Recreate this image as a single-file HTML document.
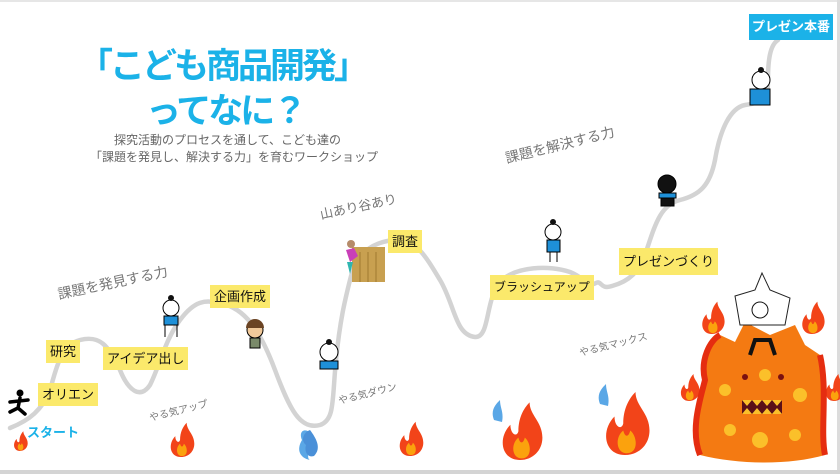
<!DOCTYPE html>
<html><head><meta charset="utf-8"><style>
html,body{margin:0;padding:0}
body{width:840px;height:474px;position:relative;overflow:hidden;background:#fff;font-family:"Liberation Sans","Noto Sans CJK JP",sans-serif}
.t{position:absolute;white-space:nowrap}
.y{position:absolute;background:#fbe96b;color:#111;font-size:13px;line-height:23px;padding:0 4px;white-space:nowrap}
.r{position:absolute;white-space:nowrap;color:#777;transform-origin:left bottom}
</style></head><body>
<svg width="840" height="474" style="position:absolute;left:0;top:0">
<rect x="0" y="0" width="840" height="2" fill="#e6e6e6"/>
<rect x="837" y="0" width="3" height="474" fill="#dcdcdc"/>
<rect x="0" y="470" width="840" height="4" fill="#d4d4d4"/>
<path d="M10,428 C30,420 42,410 50,390 C56,370 60,345 80,340 C100,335 108,345 120,370 C128,390 140,400 150,385 C160,365 165,340 180,320 C195,300 205,300 220,303 C245,308 260,330 275,370 C290,410 300,430 320,425 C335,420 332,400 336,360 C340,320 345,300 350,280 C356,255 370,242 395,240 C415,238 425,255 440,280 C455,305 455,335 475,337 C490,338 485,300 500,282 C515,266 550,265 570,272 C585,278 588,288 596,283 C602,280 600,290 612,286 C630,281 638,272 645,255 C655,225 660,205 680,200 C700,195 710,185 715,160 C720,130 730,108 745,105 C765,102 768,98 768,80 C768,60 770,45 778,40" fill="none" stroke="#d3d3d3" stroke-width="4.5" stroke-linecap="round"/>
<rect x="352" y="247" width="33" height="35" fill="#c8a050"/>
<g stroke="#a07a30" stroke-width="1"><line x1="360" y1="252" x2="360" y2="282"/><line x1="368" y1="252" x2="368" y2="282"/><line x1="376" y1="252" x2="376" y2="282"/></g>
<circle cx="351" cy="244" r="4" fill="#b58b6a"/><path d="M346,250 l8,-2 l4,8 l-8,6 z" fill="#c93fb8"/><path d="M347,262 l6,0 l-3,12 z" fill="#2fb6b0"/>
<circle cx="20" cy="393" r="3.5" fill="#000"/><path d="M20,398 L18,408 L10,412 M18,408 L25,414 M10,402 L28,400" stroke="#000" stroke-width="3.5" fill="none" stroke-linecap="round"/>
<g stroke="#000" stroke-width="1" fill="#fff">
<circle cx="171" cy="308" r="8"/><rect x="164" y="316" width="14" height="9" fill="#1e90d8"/><path d="M165,325 v12 M177,325 v12"/>
<circle cx="255" cy="330" r="8" fill="#f1c99a"/><rect x="250" y="338" width="10" height="10" fill="#7a8a6a"/>
<circle cx="329" cy="352" r="9"/><rect x="320" y="361" width="18" height="8" fill="#1e90d8"/>
<circle cx="553" cy="232" r="8"/><rect x="547" y="240" width="13" height="12" fill="#1e90d8"/><path d="M550,252 v10 M557,252 v10"/>
<circle cx="667" cy="184" r="9" fill="#111"/><rect x="659" y="193" width="17" height="5" fill="#1e90d8"/><rect x="661" y="198" width="13" height="8" fill="#111"/>
<circle cx="761" cy="80" r="9"/><rect x="750" y="89" width="20" height="16" fill="#1e90d8"/>
</g>
<g fill="#111"><circle cx="171" cy="298" r="3"/><circle cx="329" cy="342" r="3"/><circle cx="553" cy="222" r="3"/><circle cx="761" cy="70" r="3"/><path d="M246,328 a9,9 0 0 1 18,0 z" fill="#6b4424"/></g>
<defs><g id="f"><path d="M0,20 C-12,20 -14,6 -6,-2 C-6,4 -2,6 -1,2 C-1,-6 2,-12 6,-16 C6,-8 14,-4 14,6 C14,14 8,20 0,20 z" fill="#f24419"/><path d="M1,19 C-5,19 -6,10 -1,6 C0,10 2,10 3,6 C7,9 8,19 1,19 z" fill="#fba20d"/></g></defs>
<use href="#f" transform="translate(20,440) scale(0.55)"/>
<use href="#f" transform="translate(181,438) scale(0.95)"/>
<use href="#f" transform="translate(410,437) scale(0.95)"/>
<use href="#f" transform="translate(520,428) scale(1.6)"/>
<use href="#f" transform="translate(625,420) scale(1.75)"/>
<use href="#f" transform="translate(689,386) scale(0.75)"/>
<use href="#f" transform="translate(834,386) scale(0.75)"/>
<path d="M302,440 C298,430 306,428 310,433 C312,445 305,458 310,460 C300,458 296,450 302,440z" fill="#5aa7e6"/>
<path d="M306,445 C300,440 304,432 310,430 C316,438 322,448 314,456 C308,458 304,452 306,445z" fill="#4a90d8"/>
<path d="M494,420 C490,410 496,404 500,400 C500,408 504,412 502,422 z M600,404 C596,394 602,388 606,384 C606,392 610,396 608,406 z" fill="#5aa7e6"/>
<path d="M700,455 C690,430 700,400 705,380 C700,360 710,340 720,335 L735,342 L745,322 L770,335 L795,325 L805,345 L820,355 C828,390 820,430 825,455 C790,465 740,465 700,455z" fill="#f47a12"/>
<path d="M700,455 C690,430 700,400 705,380 C700,360 710,340 720,335" stroke="#e52d10" stroke-width="6" fill="none"/>
<path d="M825,455 C820,430 828,390 820,355" stroke="#e52d10" stroke-width="6" fill="none"/>
<use href="#f" transform="translate(712,316) scale(0.9)"/>
<use href="#f" transform="translate(812,316) scale(0.9)"/>
<g fill="#fbc02a"><circle cx="725" cy="390" r="6"/><circle cx="800" cy="395" r="7"/><circle cx="760" cy="440" r="8"/><circle cx="730" cy="430" r="6"/><circle cx="795" cy="435" r="6"/><circle cx="765" cy="375" r="6"/></g>
<circle cx="745" cy="377" r="3" fill="#7a1010"/><circle cx="781" cy="377" r="3" fill="#7a1010"/>
<path d="M742,400 h40 v14 h-40z" fill="#5a1018"/><path d="M742,400 l5,6 l5,-6 l5,6 l5,-6 l5,6 l5,-6 l5,6 l5,-6 M742,414 l5,-6 l5,6 l5,-6 l5,6 l5,-6 l5,6 l5,-6 l5,6" fill="#fbc02a"/>
<path d="M735,296 L755,290 L762,273 L770,290 L790,298 L785,325 L740,325z" fill="#fff" stroke="#222" stroke-width="1"/>
<circle cx="760" cy="310" r="8" fill="#fff" stroke="#111"/><path d="M750,355 L755,340 L770,340 L775,355" stroke="#111" stroke-width="4" fill="none"/>
</svg>
<div class="t" style="left:78px;top:38px;font-size:35px;font-weight:bold;color:#1bb2e8;letter-spacing:-3px">「こども商品開発」</div>
<div class="t" style="left:146px;top:83px;font-size:35px;font-weight:bold;color:#1bb2e8;letter-spacing:-3px">ってなに？</div>
<div class="t" style="left:114px;top:131px;font-size:12px;color:#666">探究活動のプロセスを通して、こども達の</div>
<div class="t" style="left:90px;top:148px;font-size:12px;color:#666">「課題を発見し、解決する力」を育むワークショップ</div>
<div class="r" style="left:60px;top:284px;font-size:14px;transform:rotate(-12deg)">課題を発見する力</div>
<div class="r" style="left:322px;top:204px;font-size:13px;transform:rotate(-12deg)">山あり谷あり</div>
<div class="r" style="left:508px;top:148px;font-size:14px;transform:rotate(-14deg)">課題を解決する力</div>
<div class="r" style="left:151px;top:409px;font-size:10px;transform:rotate(-14deg)">やる気アップ</div>
<div class="r" style="left:340px;top:392px;font-size:10px;transform:rotate(-14deg)">やる気ダウン</div>
<div class="r" style="left:581px;top:344px;font-size:10px;transform:rotate(-14deg)">やる気マックス</div>
<div class="t" style="left:27px;top:422px;font-size:13px;font-weight:bold;color:#1bb2e8">スタート</div>
<div class="y" style="left:38px;top:383px">オリエン</div>
<div class="y" style="left:46px;top:340px">研究</div>
<div class="y" style="left:103px;top:347px">アイデア出し</div>
<div class="y" style="left:210px;top:285px">企画作成</div>
<div class="y" style="left:388px;top:230px">調査</div>
<div class="y" style="left:490px;top:275px;font-size:12px;line-height:25px">ブラッシュアップ</div>
<div class="y" style="left:619px;top:248px;line-height:27px">プレゼンづくり</div>
<div class="t" style="left:749px;top:14px;width:84px;height:26px;background:#1bb2e8;color:#fff;font-weight:bold;font-size:13px;line-height:26px;text-align:center">プレゼン本番</div>
</body></html>
